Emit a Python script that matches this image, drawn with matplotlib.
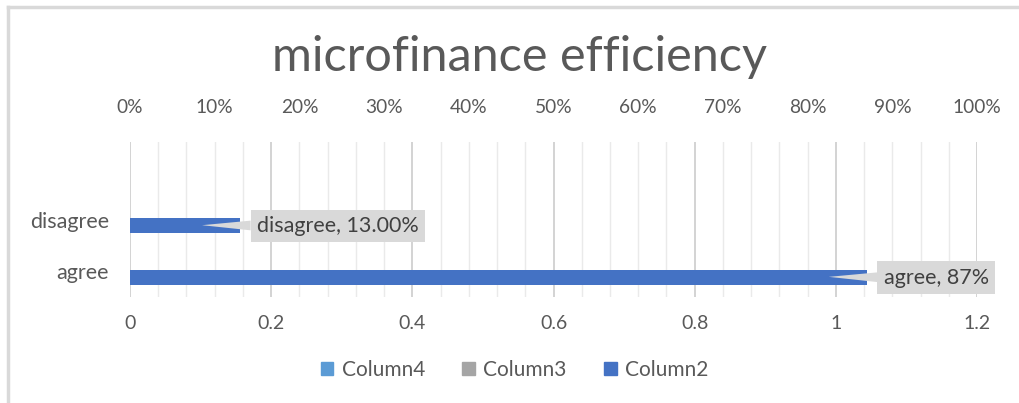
import numpy as np
import matplotlib.pyplot as plt
from matplotlib.ticker import PercentFormatter, MultipleLocator
from matplotlib.patches import Patch
from matplotlib.lines import Line2D

plt.rcParams['font.family'] = ['Lato', 'DejaVu Sans']

# data
categories = ['agree', 'disagree', '']
column2 = [0.87, 0.13, 0.0]       # plotted against the top (percent) axis
column3 = [0.0, 0.0, 0.0]
column4 = [0.0, 0.0, 0.0]
data_labels = ['agree, 87%', 'disagree, 13.00%']
series_names = ['Column4', 'Column3', 'Column2']

c2, c3, c4 = '#4472C4', '#A5A5A5', '#5B9BD5'
txt = '#595959'

fig = plt.figure(figsize=(10.19, 4.03), dpi=100)
ax = fig.add_axes([0.1276, 0.263, 0.8312, 0.3846])

y = np.arange(len(categories))
ax.barh(y + 0.29, column4, height=0.29, color=c4)
ax.barh(y + 0.0, column3, height=0.29, color=c3)
ax.set_xlim(0, 1.2)
ax.set_ylim(-0.5, 2.5)
ax.set_yticks(y[:2])
ax.set_yticklabels(categories[:2])
ax.xaxis.set_major_locator(MultipleLocator(0.2))
ax.xaxis.set_minor_locator(MultipleLocator(0.04))
ax.xaxis.set_major_formatter(lambda v, p: f'{v:g}')
ax.grid(axis='x', which='major', color='#D0D0D0', lw=1.3)
ax.grid(axis='x', which='minor', color='#EAEAEA', lw=1.0)
ax.set_axisbelow(True)
for s in ax.spines.values():
    s.set_visible(False)
ax.tick_params(axis='x', which='both', length=0, pad=13, labelsize=14, labelcolor=txt)
ax.tick_params(axis='y', length=0, pad=15, labelsize=15.5, labelcolor=txt)

ax2 = ax.twiny()
ax2.set_xlim(0, 1.0)
ax2.barh(y - 0.125, column2, height=0.29, color=c2)
ax2.xaxis.set_major_locator(MultipleLocator(0.1))
ax2.xaxis.set_major_formatter(PercentFormatter(1.0, decimals=0))
ax2.tick_params(axis='x', length=0, pad=19, labelsize=13.8, labelcolor=txt)
for s in ax2.spines.values():
    s.set_visible(False)

for i, lab in enumerate(data_labels):
    v = column2[i]
    ax2.annotate(lab, xy=(v - 0.045, y[i] - 0.11), xytext=(v + 0.02, y[i] - 0.125),
                 ha='left', va='center', fontsize=15.5, color='#404040',
                 bbox=dict(boxstyle='square,pad=0.3', fc='#D9D9D9', ec='none'),
                 arrowprops=dict(arrowstyle='wedge,tail_width=0.45', fc='#D9D9D9',
                                 ec='none', shrinkA=0, shrinkB=0))

fig.text(0.51, 0.858, 'microfinance efficiency', ha='center', va='center',
         fontsize=35, color=txt)

handles = [Patch(color=c4), Patch(color=c3), Patch(color=c2)]
fig.legend(handles, series_names, loc='center', bbox_to_anchor=(0.505, 0.083),
           ncol=3, frameon=False, fontsize=15, labelcolor=txt,
           handlelength=0.6, handleheight=0.6, columnspacing=1.8, handletextpad=0.4)

# outer chart border (top and left edges visible)
fig.add_artist(Line2D([0.008, 1.0], [0.982, 0.982], color='#D9D9D9', lw=2.5,
                      transform=fig.transFigure))
fig.add_artist(Line2D([0.008, 0.008], [0.0, 0.982], color='#D9D9D9', lw=2.5,
                      transform=fig.transFigure))

fig.savefig('out.png', dpi=100)
